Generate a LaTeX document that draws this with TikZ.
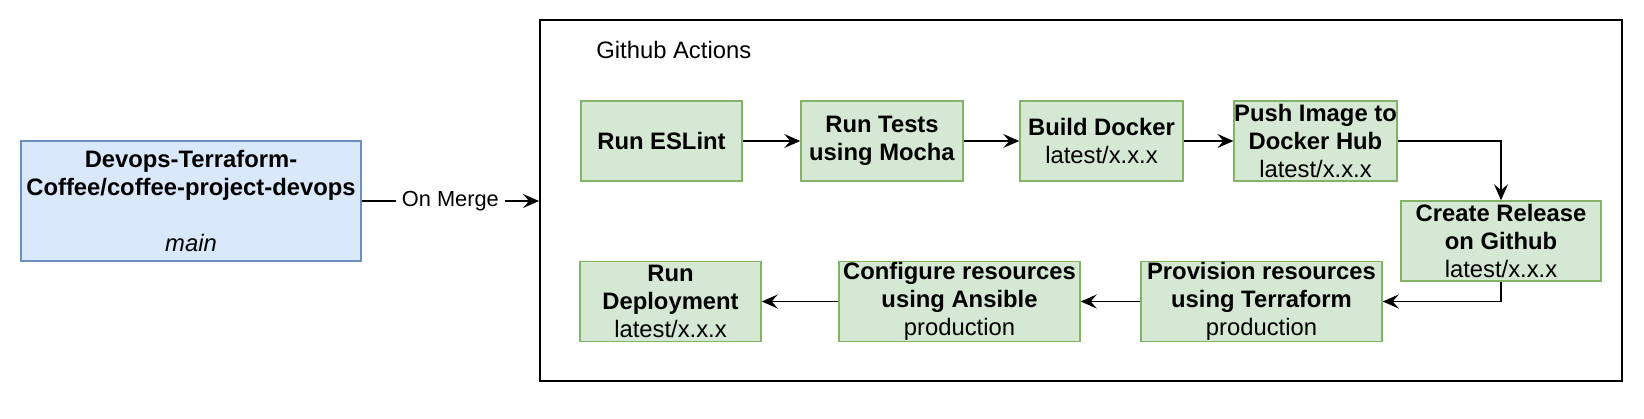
\documentclass[tikz,border=0pt]{standalone}
\usepackage{fontspec}
\setmainfont{Liberation Sans}
\usetikzlibrary{arrows.meta}
\definecolor{repofill}{HTML}{DAE8FC}
\definecolor{repoline}{HTML}{6C8EBF}
\definecolor{stagefill}{HTML}{D5E8D4}
\definecolor{stageline}{HTML}{82B366}

\begin{document}
\begin{tikzpicture}[x=0.5pt,y=-0.5pt,
  every node/.style={inner sep=0pt,align=center,font=\fontsize{11.9}{14}\selectfont},
  repobox/.style={draw=repoline,fill=repofill,line width=0.75pt,minimum width=170pt,minimum height=60pt},
  stagebox/.style={draw=stageline,fill=stagefill,line width=0.75pt,minimum height=40pt},
  flow/.style={-{Stealth[length=8pt,width=7pt,inset=3pt]},line width=0.75pt}]
\useasboundingbox (0,0) rectangle (1644,418);
% source repository
\node[repobox] (repo) at (191,201) {\textbf{Devops-Terraform-}\\\textbf{Coffee/coffee-project-devops}\\[14pt]\textit{main}};
% pipeline frame
\node[draw,line width=1pt,minimum width=541pt,minimum height=180.5pt] (actions) at (1081,200.5) {};
\node[anchor=west] (title) at (596,50) {Github Actions};
% first row
\node[stagebox,minimum width=80.5pt] (eslint) at (661.5,141) {\textbf{Run ESLint}};
\node[stagebox,minimum width=81pt] (tests) at (882,141) {\textbf{Run Tests}\\\textbf{using Mocha}};
\node[stagebox,minimum width=81.5pt] (build) at (1101.5,141) {\textbf{Build Docker}\\latest/x.x.x};
\node[stagebox,minimum width=75.5pt] (push) at (1315.5,141) {\textbf{Push Image to}\\\textbf{Docker Hub}\\latest/x.x.x};
\node[stagebox,minimum width=100pt] (release) at (1501,241) {\textbf{Create Release}\\\textbf{on Github}\\latest/x.x.x};
% second row
\node[stagebox,minimum width=120.5pt] (provision) at (1261.5,301.5) {\textbf{Provision resources}\\\textbf{using Terraform}\\production};
\node[stagebox,minimum width=120.5pt] (configure) at (959.5,301.5) {\textbf{Configure resources}\\\textbf{using Ansible}\\production};
\node[stagebox,minimum width=90.5pt] (deploy) at (670.5,301.5) {\textbf{Run}\\\textbf{Deployment}\\latest/x.x.x};
% connectors
\draw[flow] (repo.east) -- node[fill=white,inner xsep=3pt,font=\fontsize{10.9}{13}\selectfont] (merge) {On Merge} (repo.east -| actions.west);
\draw[flow] (eslint) -- (tests);
\draw[flow] (tests) -- (build);
\draw[flow] (build) -- (push);
\draw[flow] (push.east) -| (release.north);
\draw[flow] (release.south) |- (provision.east);
\draw[flow] (provision) -- (configure);
\draw[flow] (configure) -- (deploy);
\end{tikzpicture}
\end{document}
